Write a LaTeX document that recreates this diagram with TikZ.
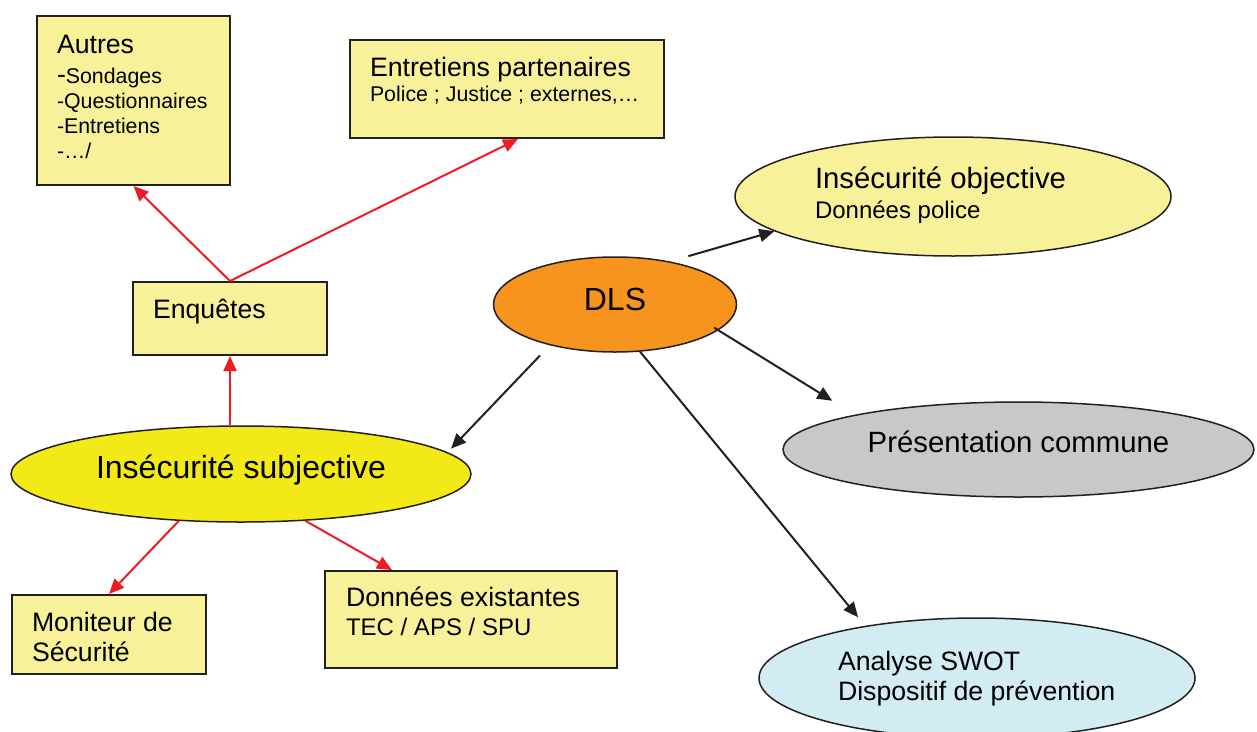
\documentclass[tikz,border=0pt]{standalone}
\usepackage{fontspec}
\setmainfont{Liberation Sans}
\usepackage{tikz}
\usetikzlibrary{positioning}
\usetikzlibrary{shapes.geometric}
\usetikzlibrary{arrows.meta}

\definecolor{jaunepale}{RGB}{247,242,154}
\definecolor{jaunevif}{RGB}{242,233,22}
\definecolor{orangedls}{RGB}{247,148,30}
\definecolor{grisclair}{RGB}{199,200,202}
\definecolor{bleuclair}{RGB}{210,236,243}
\definecolor{rouge}{RGB}{237,28,36}
\definecolor{trait}{RGB}{35,31,32}

\begin{document}
\begin{tikzpicture}[x=1pt, y=-1pt,
    boite/.style={rectangle, draw=trait, line width=2pt, fill=jaunepale, anchor=north west, align=flush left, inner xsep=20pt, inner ysep=0pt},
    bulle/.style={ellipse, draw=trait, line width=1.5pt, inner sep=0pt},
    fleche/.style={draw=trait, line width=2pt, -{Triangle[length=15pt, width=13pt]}},
    flecherouge/.style={fleche, draw=rouge}]
    \useasboundingbox (0,0) rectangle (1257,731);
    \clip (0,0) rectangle (1257,731);

    % les boites
    \node[boite, font=\fontsize{21.33}{25}\selectfont, text width=153pt, text height=37pt, text depth=132pt] (autres) at (36,15)
        {{\fontsize{26.67}{30}\selectfont Autres}\\[5pt]
         {\fontsize{26.67}{30}\selectfont -}Sondages\\
         -Questionnaires\\
         -Entretiens\\
         -…/};
    \node[boite, font=\fontsize{21.33}{25}\selectfont, text width=274pt, text height=36pt, text depth=62pt] (entr) at (349,39)
        {{\fontsize{26.67}{30}\selectfont Entretiens partenaires}\\
         Police ; Justice ; externes,…};
    \node[boite, font=\fontsize{26.67}{30}\selectfont, text width=154pt, text height=36pt, text depth=37pt] (enq) at (132,281)
        {Enquêtes};
    \node[boite, font=\fontsize{26.67}{30}\selectfont, text width=154pt, text height=36pt, text depth=43pt] (mon) at (11,594)
        {Moniteur de\\ Sécurité};
    \node[boite, font=\fontsize{24}{29}\selectfont, inner xsep=21pt, text width=250pt, text height=35pt, text depth=62pt] (don) at (324,570)
        {{\fontsize{26.67}{30}\selectfont Données existantes}\\
         TEC / APS / SPU};

    % les bulles
    \node[bulle, fill=jaunepale, font=\fontsize{24}{30}\selectfont, minimum width=436pt, minimum height=119pt, text width=276pt, align=flush left, text height=24pt, text depth=41pt] (obj) at (953,196.5)
        {{\fontsize{29.33}{30}\selectfont Insécurité objective}\\
         Données police};
    \node[bulle, fill=orangedls, font=\fontsize{32}{38}\selectfont, minimum width=243pt, minimum height=95pt, text height=24pt, text depth=13pt] (dls) at (615,304.5)
        {DLS};
    \node[bulle, fill=jaunevif, font=\fontsize{32}{38}\selectfont, minimum width=460pt, minimum height=96pt, text height=24pt, text depth=16pt] (sub) at (241,474)
        {Insécurité subjective};
    \node[bulle, fill=grisclair, font=\fontsize{29.33}{35}\selectfont, minimum width=471pt, minimum height=95pt, text height=22pt, text depth=17pt] (pres) at (1018.5,449.5)
        {Présentation commune};
    \node[bulle, fill=bleuclair, font=\fontsize{26.67}{30}\selectfont, minimum width=436pt, minimum height=120pt, text width=278pt, align=flush left, text height=22pt, text depth=38pt] (swot) at (977,678)
        {Analyse SWOT\\ Dispositif de prévention};

    % fleches noires
    \draw[fleche, shorten <=19pt] (dls.38.5) -- (obj.191.7);
    \draw[fleche, shorten <=-5pt, shorten >=26.5pt] (dls.-14) -- (pres.168.3);
    \draw[fleche, shorten <=14pt, shorten >=5pt] (dls.212.7) -- (sub.6.4);
    \draw[fleche, shorten >=11pt] (dls.-62) -- (swot.155.6);

    % fleches rouges
    \draw[flecherouge] (enq.south |- sub.north) -- (enq.south);
    \draw[flecherouge] (enq.north) -- (autres.south);
    \draw[flecherouge] (enq.north) -- ([xshift=11pt]entr.south);
    \draw[flecherouge] (sub.217.6) -- (mon.north);
    \draw[flecherouge] (sub.-36) -- ([xshift=68pt]don.north west);
\end{tikzpicture}
\end{document}
